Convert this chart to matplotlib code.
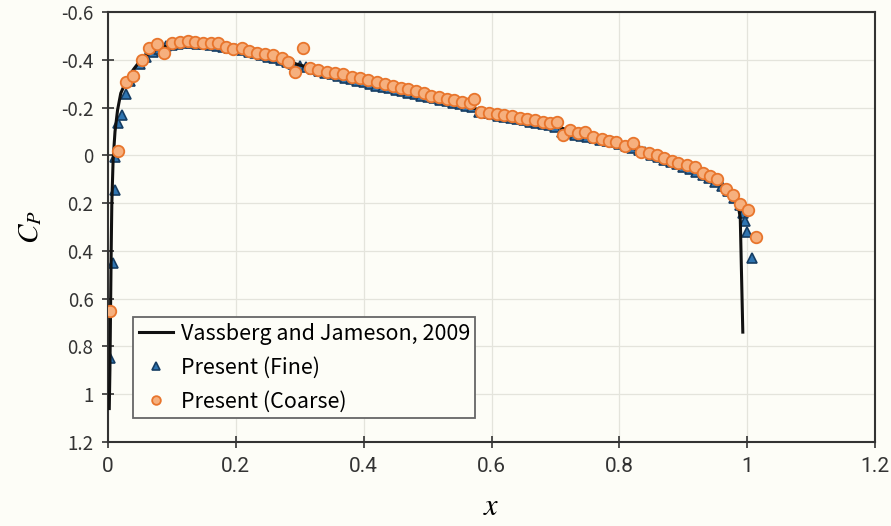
import matplotlib.pyplot as plt

plt.rcParams['mathtext.fontset'] = 'stix'

# Vassberg and Jameson (2009) reference Cp distribution
ref_x = [0.002, 0.003, 0.004, 0.005, 0.006, 0.008, 0.011, 0.015, 0.02, 0.03,
         0.04, 0.05, 0.06, 0.08, 0.1, 0.12, 0.14, 0.17, 0.2, 0.25,
         0.3, 0.35, 0.4, 0.45, 0.5, 0.55, 0.6, 0.65, 0.7, 0.75,
         0.8, 0.85, 0.9, 0.93, 0.95, 0.97, 0.98, 0.985, 0.989, 0.993]
ref_cp = [1.06, 0.9, 0.65, 0.4, 0.2, 0.02, -0.1, -0.19, -0.26, -0.32,
          -0.36, -0.395, -0.42, -0.45, -0.462, -0.468, -0.468, -0.462, -0.448, -0.418,
          -0.378, -0.343, -0.31, -0.28, -0.248, -0.216, -0.174, -0.148, -0.122, -0.08,
          -0.048, -0.004, 0.044, 0.078, 0.105, 0.145, 0.175, 0.2, 0.26, 0.74]

# Present results, fine grid
fine_x = [0.003, 0.008, 0.011, 0.011, 0.016, 0.022, 0.028,
          0.035, 0.04, 0.05, 0.06, 0.07, 0.08, 0.09, 0.1, 0.11, 0.12,
          0.13, 0.14, 0.15, 0.16, 0.17, 0.18, 0.19, 0.2, 0.21, 0.22,
          0.23, 0.24, 0.25, 0.26, 0.27, 0.28, 0.29, 0.3, 0.31, 0.32,
          0.33, 0.34, 0.35, 0.36, 0.37, 0.38, 0.39, 0.4, 0.41, 0.42,
          0.43, 0.44, 0.45, 0.46, 0.47, 0.48, 0.49, 0.5, 0.51, 0.52,
          0.53, 0.54, 0.55, 0.56, 0.57, 0.58, 0.59, 0.6, 0.61, 0.62,
          0.63, 0.64, 0.65, 0.66, 0.67, 0.68, 0.69, 0.7, 0.71, 0.72,
          0.73, 0.74, 0.75, 0.76, 0.77, 0.78, 0.79, 0.8, 0.81, 0.82,
          0.83, 0.84, 0.85, 0.86, 0.87, 0.88, 0.89, 0.9, 0.91, 0.92,
          0.93, 0.94, 0.95, 0.96, 0.97, 0.98, 0.988, 0.993, 0.997, 1.0,
          1.008]
fine_cp = [0.85, 0.45, 0.146, 0.008, -0.134, -0.167, -0.255,
           -0.31, -0.342, -0.382, -0.412, -0.432, -0.447, -0.457, -0.462, -0.466, -0.469,
           -0.469, -0.468, -0.466, -0.463, -0.459, -0.454, -0.449, -0.444, -0.439, -0.433,
           -0.427, -0.42, -0.413, -0.406, -0.399, -0.391, -0.383, -0.375, -0.368, -0.36,
           -0.353, -0.346, -0.339, -0.332, -0.325, -0.318, -0.312, -0.305, -0.298, -0.292,
           -0.286, -0.28, -0.274, -0.268, -0.262, -0.256, -0.25, -0.244, -0.238, -0.232,
           -0.226, -0.22, -0.214, -0.208, -0.202, -0.182, -0.176, -0.171, -0.166, -0.161,
           -0.156, -0.151, -0.146, -0.141, -0.136, -0.131, -0.126, -0.12, -0.097, -0.092,
           -0.087, -0.082, -0.077, -0.072, -0.066, -0.06, -0.054, -0.047, -0.04, -0.032,
           -0.022, -0.012, -0.002, 0.008, 0.018, 0.028, 0.038, 0.048, 0.058, 0.07,
           0.082, 0.096, 0.11, 0.128, 0.15, 0.178, 0.208, 0.24, 0.275, 0.32,
           0.43]

# Present results, coarse grid
coarse_x = [0.003, 0.016, 0.028, 0.039, 0.053, 0.064, 0.077, 0.088, 0.1, 0.113,
            0.125, 0.136, 0.149, 0.161, 0.172, 0.185, 0.196, 0.21, 0.221, 0.233,
            0.246, 0.258, 0.272, 0.282, 0.293, 0.305, 0.316, 0.329, 0.343, 0.355,
            0.368, 0.382, 0.394, 0.407, 0.421, 0.433, 0.446, 0.458, 0.47, 0.482,
            0.494, 0.506, 0.518, 0.53, 0.542, 0.554, 0.566, 0.572, 0.584, 0.596,
            0.608, 0.62, 0.632, 0.644, 0.656, 0.668, 0.68, 0.692, 0.703, 0.712,
            0.722, 0.735, 0.746, 0.759, 0.772, 0.784, 0.795, 0.808, 0.822, 0.833,
            0.846, 0.858, 0.869, 0.883, 0.892, 0.906, 0.919, 0.93, 0.942, 0.953,
            0.966, 0.978, 0.989, 1.001, 1.013]
coarse_cp = [0.65, -0.02, -0.305, -0.33, -0.4, -0.45, -0.465, -0.43, -0.47, -0.475,
             -0.48, -0.475, -0.47, -0.47, -0.47, -0.455, -0.445, -0.45, -0.435, -0.43,
             -0.425, -0.418, -0.406, -0.39, -0.347, -0.448, -0.364, -0.356, -0.347, -0.343,
             -0.339, -0.326, -0.322, -0.314, -0.305, -0.298, -0.29, -0.283, -0.276, -0.268,
             -0.26, -0.25, -0.243, -0.236, -0.23, -0.224, -0.218, -0.236, -0.18, -0.177,
             -0.173, -0.168, -0.163, -0.158, -0.152, -0.146, -0.14, -0.134, -0.138, -0.084,
             -0.105, -0.092, -0.096, -0.075, -0.07, -0.06, -0.055, -0.04, -0.05, -0.013,
             -0.008, 0.0, 0.013, 0.025, 0.034, 0.042, 0.05, 0.075, 0.085, 0.1,
             0.14, 0.165, 0.205, 0.23, 0.34]

bg = '#fdfdf7'
fig = plt.figure(figsize=(8.91, 5.26), dpi=100, facecolor=bg)
ax = fig.add_axes([0.1212, 0.1597, 0.861, 0.8175])
ax.set_facecolor(bg)

ax.plot(fine_x, fine_cp, linestyle='none', marker='^', markersize=7.5,
        markerfacecolor='#2f74b0', markeredgecolor='#163d63', markeredgewidth=1.2,
        label='Present (Fine)', zorder=2)
ax.plot(ref_x, ref_cp, color='#111111', linewidth=2.2,
        label='Vassberg and Jameson, 2009', zorder=3)
ax.plot(coarse_x, coarse_cp, linestyle='none', marker='o', markersize=8.3,
        markerfacecolor='#f6b07e', markeredgecolor='#e8752c', markeredgewidth=1.3,
        label='Present (Coarse)', zorder=4)

ax.set_xlim(0, 1.2)
ax.set_ylim(1.2, -0.6)
ax.set_xticks([0, 0.2, 0.4, 0.6, 0.8, 1.0, 1.2])
ax.set_xticklabels(['0', '0.2', '0.4', '0.6', '0.8', '1', '1.2'])
ax.set_yticks([-0.6, -0.4, -0.2, 0, 0.2, 0.4, 0.6, 0.8, 1.0, 1.2])
ax.set_yticklabels(['-0.6', '-0.4', '-0.2', '0', '0.2', '0.4', '0.6', '0.8', '1', '1.2'])

ax.grid(True, color='#e4e4dc', linewidth=0.9)
ax.set_axisbelow(True)
for s in ax.spines.values():
    s.set_color('#333333')
    s.set_linewidth(1.5)
ax.tick_params(direction='inout', length=9, width=1.2, color='#333333',
               labelsize=13, labelcolor='#333333', pad=6)
for lab in ax.get_xticklabels():
    lab.set_family(['Liberation Sans Narrow', 'Roboto', 'DejaVu Sans'])
    lab.set_fontsize(15)
for lab in ax.get_yticklabels():
    lab.set_family(['Noto Sans CJK JP', 'DejaVu Sans'])
    lab.set_fontsize(13.5)

ax.set_xlabel(r'$x$', fontsize=22, labelpad=12)
ax.set_ylabel(r'$C_P$', fontsize=21, labelpad=12)

handles, labels = ax.get_legend_handles_labels()
order = [1, 0, 2]
leg = ax.legend([handles[i] for i in order], [labels[i] for i in order],
                loc='lower left', bbox_to_anchor=(0.033, 0.056), borderaxespad=0,
                prop={'family': ['Noto Sans CJK JP', 'DejaVu Sans'], 'size': 15.5},
                frameon=True, fancybox=False, framealpha=1, edgecolor='#666666',
                handlelength=1.6, handletextpad=0.35, borderpad=0.25,
                labelspacing=0.55, markerscale=0.75)
leg.get_frame().set_facecolor(bg)
leg.get_frame().set_linewidth(1.3)

plt.savefig('out.png', dpi=100, facecolor=bg)
